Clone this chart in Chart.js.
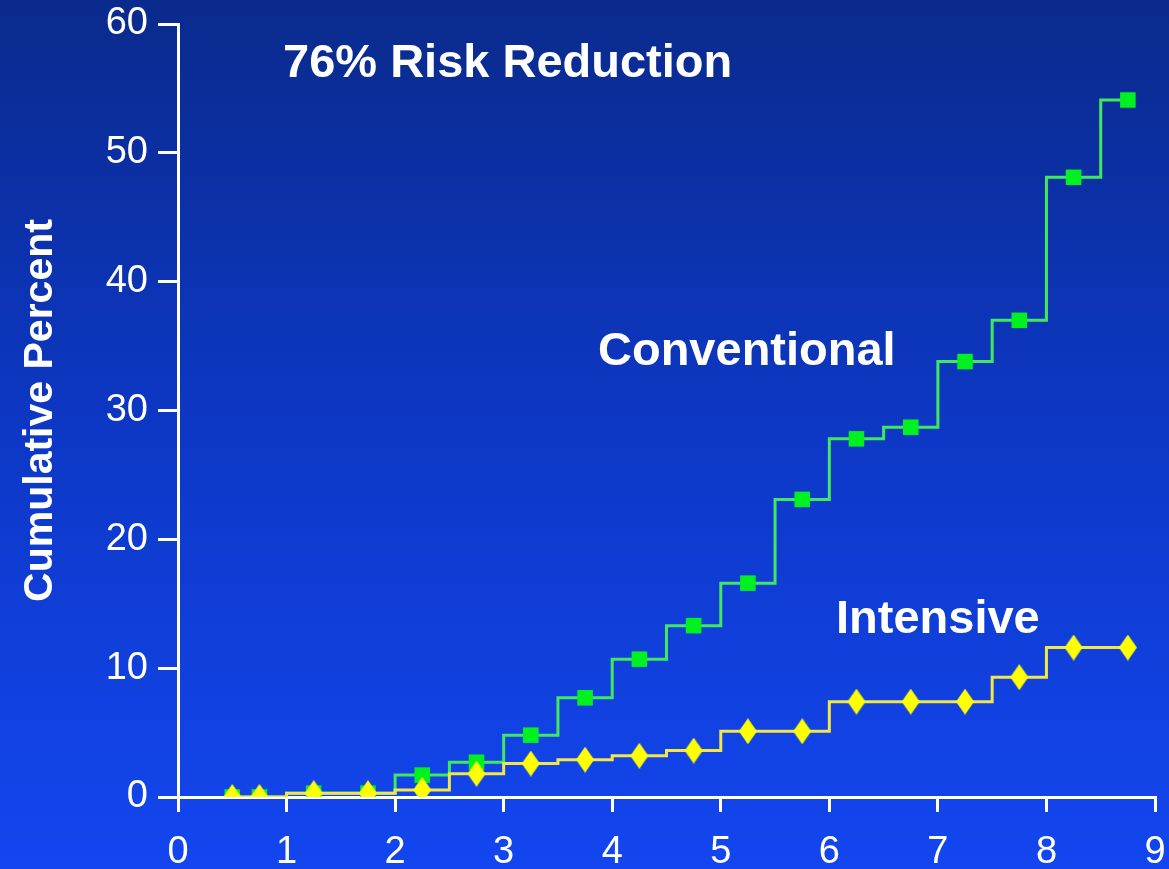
<!DOCTYPE html>
<html>
<head>
<meta charset="utf-8">
<script src="https://cdn.jsdelivr.net/npm/chart.js@4.4.1/dist/chart.umd.min.js"></script>
<style>
  html, body { margin: 0; padding: 0; background: #0d35b8; }
  #wrap { width: 1169px; height: 869px; position: relative; }
</style>
</head>
<body>
<div id="wrap"><canvas id="myChart"></canvas></div>
<script>
const years = [0.5, 0.75, 1.25, 1.75, 2.25, 2.75, 3.25, 3.75, 4.25, 4.75, 5.25, 5.75, 6.25, 6.75, 7.25, 7.75, 8.25, 8.75];
const conventional = [0, 0, 0.3, 0.3, 1.7, 2.7, 4.8, 7.7, 10.7, 13.3, 16.6, 23.1, 27.8, 28.7, 33.8, 37.0, 48.1, 54.1];
const intensive = [0, 0, 0.3, 0.3, 0.55, 1.8, 2.6, 2.9, 3.2, 3.6, 5.1, 5.1, 7.4, 7.4, 7.4, 9.3, 11.6, 11.6];
const xTicks = [0, 1, 2, 3, 4, 5, 6, 7, 8, 9];
const yTicks = [0, 10, 20, 30, 40, 50, 60];

const FONT = '"Liberation Sans", Arial, Helvetica, sans-serif';

// elongated diamond marker
const diamond = document.createElement('canvas');
diamond.width = 18;
diamond.height = 26;
(function () {
    const c = diamond.getContext('2d');
    c.fillStyle = '#ffff00';
    c.beginPath();
    c.moveTo(9, 0);
    c.lineTo(18, 13);
    c.lineTo(9, 26);
    c.lineTo(0, 13);
    c.closePath();
    c.fill();
})();

const background = {
    id: 'background',
    beforeDraw(chart) {
        const c = chart.ctx;
        const g = c.createLinearGradient(0, 0, 0, chart.height);
        g.addColorStop(0, '#0a2a8c');
        g.addColorStop(0.5, '#0d38c6');
        g.addColorStop(1, '#1346f0');
        c.save();
        c.fillStyle = g;
        c.fillRect(0, 0, chart.width, chart.height);
        c.restore();
    }
};

const labels = {
    id: 'labels',
    afterDraw(chart) {
        const c = chart.ctx;
        c.save();
        c.fillStyle = '#ffffff';
        c.font = 'bold 47px ' + FONT;
        c.textBaseline = 'alphabetic';
        c.textAlign = 'left';
        c.fillText('76% Risk Reduction', 283, 77);
        c.fillText('Conventional', 598, 365);
        c.fillText('Intensive', 836, 633);
        c.restore();
    }
};

const ctx = document.getElementById('myChart').getContext('2d');
const myChart = new Chart(ctx, {
    type: 'line',
    data: {
        datasets: [{
            label: 'Conventional',
            data: years.map((x, i) => ({ x: x, y: conventional[i] })),
            borderColor: '#40e860',
            borderWidth: 3,
            stepped: 'middle',
            pointStyle: 'rect',
            pointRadius: 11,
            pointBackgroundColor: '#00f020',
            pointBorderColor: '#00f020',
            pointBorderWidth: 0,
            order: 1
        }, {
            label: 'Intensive',
            data: years.map((x, i) => ({ x: x, y: intensive[i] })),
            borderColor: '#f2e648',
            borderWidth: 3,
            stepped: 'middle',
            pointStyle: diamond,
            pointRadius: 10,
            order: 0
        }]
    },
    options: {
        responsive: true,
        maintainAspectRatio: false,
        animation: false,
        layout: { padding: { top: 24, right: 14, left: 0, bottom: 0 } },
        plugins: {
            legend: { display: false },
            tooltip: { enabled: false }
        },
        scales: {
            x: {
                type: 'linear',
                min: 0,
                max: 9,
                afterFit: (s) => { s.height = 72; s.paddingLeft = 0; s.paddingRight = 0; },
                afterBuildTicks: (s) => { s.ticks = xTicks.map(v => ({ value: v })); },
                grid: { drawOnChartArea: false, color: '#ffffff', lineWidth: 3, tickLength: 15 },
                border: { color: '#ffffff', width: 3 },
                ticks: {
                    color: '#ffffff',
                    font: { family: FONT, size: 38 },
                    padding: 18,
                    maxRotation: 0
                }
            },
            y: {
                type: 'linear',
                min: 0,
                max: 60,
                afterFit: (s) => { s.width = 178; s.paddingTop = 0; s.paddingBottom = 0; },
                afterBuildTicks: (s) => { s.ticks = yTicks.map(v => ({ value: v })); },
                grid: { drawOnChartArea: false, color: '#ffffff', lineWidth: 3, tickLength: 20 },
                border: { color: '#ffffff', width: 3 },
                ticks: {
                    color: '#ffffff',
                    font: { family: FONT, size: 38 },
                    padding: 10
                },
                title: {
                    display: true,
                    text: 'Cumulative Percent',
                    color: '#ffffff',
                    font: { family: FONT, size: 41, weight: 'bold' },
                    padding: { top: 16, bottom: 0 }
                }
            }
        }
    },
    plugins: [background, labels]
});
</script>
</body>
</html>
